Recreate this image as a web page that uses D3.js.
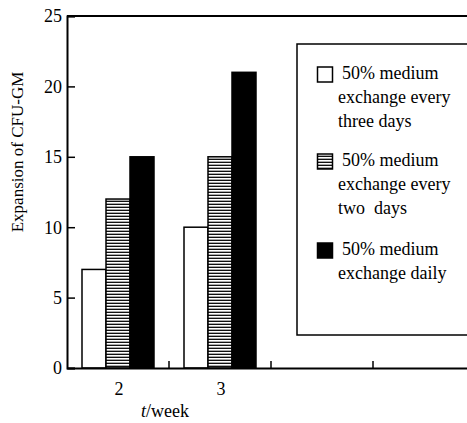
<!DOCTYPE html>
<html>
<head>
<meta charset="utf-8">
<script src="https://cdn.jsdelivr.net/npm/d3@7"></script>
<style>
  html, body { margin: 0; padding: 0; background: #fff; }
  svg { display: block; }
</style>
</head>
<body>
<svg id="chart" width="467" height="423"></svg>
<script>
// ---- data ----
const weeks = ["2", "3"];
const axisSlots = ["2", "3", "4", "5"];
const seriesNames = ["every3", "every2", "daily"];
const every3Days = [7, 10];
const every2Days = [12, 15];
const dailyExchange = [15, 21];
const yTicks = [0, 5, 10, 15, 20, 25];
const legendLines = [
  ["50% medium", "exchange every", "three days"],
  ["50% medium", "exchange every", "two  days"],
  ["50% medium", "exchange daily"]
];

(function () {
const FONT = "'Liberation Serif', 'Times New Roman', Times, 'DejaVu Serif', serif";
const svg = d3.select("#chart").attr("font-family", FONT);
const defs = svg.append("defs");
const pat = defs.append("pattern").attr("id", "hatch")
  .attr("patternUnits", "userSpaceOnUse").attr("width", 8).attr("height", 3);
pat.append("rect").attr("width", 8).attr("height", 3).attr("fill", "#fff");
pat.append("rect").attr("y", 0).attr("width", 8).attr("height", 1).attr("fill", "#111");
pat.append("rect").attr("y", 2).attr("width", 8).attr("height", 1).attr("fill", "#aaa");

const fills = { every3: "#fff", every2: "url(#hatch)", daily: "#000" };

const mLeft = 67, mTop = 16, mBottom = 368, mRight = 475;
const x = d3.scaleBand().domain(axisSlots).range([mLeft, mRight]).padding(0);
const x1 = d3.scaleBand().domain(seriesNames).range([0, x.bandwidth()]).paddingInner(0).paddingOuter(0.625);
const y = d3.scaleLinear().domain([0, 25]).range([mBottom, mTop]);

const rows = weeks.map((w, i) => ({ week: w, values: { every3: every3Days[i], every2: every2Days[i], daily: dailyExchange[i] } }));

// bars
const g = svg.append("g");
rows.forEach(r => {
  seriesNames.forEach(s => {
    g.append("rect")
      .attr("x", x(r.week) + x1(s))
      .attr("y", y(r.values[s]))
      .attr("width", x1.bandwidth())
      .attr("height", y(0) - y(r.values[s]))
      .attr("fill", fills[s])
      .attr("stroke", "#000")
      .attr("stroke-width", 1.5);
  });
});

// frame lines
svg.append("line").attr("x1", mLeft).attr("x2", mRight).attr("y1", mTop).attr("y2", mTop)
  .attr("stroke", "#000").attr("stroke-width", 2);

// y axis
const yAxis = d3.axisRight(y).tickValues(yTicks).tickSize(8).tickFormat("");
const ya = svg.append("g").attr("transform", `translate(${mLeft},0)`).call(yAxis);
ya.select(".domain").attr("stroke-width", 2);
ya.selectAll(".tick line").attr("stroke-width", 1.5);

function txt(sel) {
  return sel.attr("font-family", FONT).attr("fill", "#000");
}

txt(svg.append("g").selectAll("text").data(yTicks).join("text"))
  .attr("x", mLeft - 5).attr("y", d => y(d)).attr("dy", "0.35em")
  .attr("text-anchor", "end").attr("font-size", 18)
  .text(d => d);

// x axis (ticks at category boundaries)
const xa = svg.append("g").attr("transform", `translate(0,${mBottom})`)
  .call(d3.axisTop(x).tickSize(0).tickFormat(""));
xa.select(".domain").attr("stroke-width", 2);
xa.selectAll(".tick").remove();
svg.append("g").selectAll("line").data(axisSlots.slice(0, 3)).join("line")
  .attr("x1", d => x(d) + x.bandwidth()).attr("x2", d => x(d) + x.bandwidth())
  .attr("y1", mBottom).attr("y2", mBottom - 7)
  .attr("stroke", "#000").attr("stroke-width", 1.5);
txt(svg.append("g").selectAll("text").data(weeks).join("text"))
  .attr("x", d => x(d) + x.bandwidth() / 2 + 1).attr("y", 395)
  .attr("text-anchor", "middle").attr("font-size", 18)
  .text(d => d);

// axis titles
const xt = txt(svg.append("text")).attr("x", 165).attr("y", 417).attr("text-anchor", "middle").attr("font-size", 18);
xt.append("tspan").attr("font-style", "italic").text("t");
xt.append("tspan").text("/week");
txt(svg.append("text")).attr("transform", "translate(23,152) rotate(-90)")
  .attr("text-anchor", "middle").attr("font-size", 17).text("Expansion of CFU-GM");

// legend
svg.append("rect").attr("x", 297).attr("y", 44).attr("width", 190).attr("height", 291)
  .attr("fill", "none").attr("stroke", "#000").attr("stroke-width", 1.5);
const legendTops = [67, 154, 243];
const legendBase = [79, 166, 255];
seriesNames.forEach((s, i) => {
  svg.append("rect").attr("x", 317.5).attr("y", legendTops[i]).attr("width", 15).attr("height", 15)
    .attr("fill", fills[s]).attr("stroke", "#000").attr("stroke-width", 1.5);
  legendLines[i].forEach((t, j) => {
    txt(svg.append("text")).attr("x", j === 0 ? 342 : 338).attr("y", legendBase[i] + j * 24)
      .attr("font-size", 18).attr("xml:space", "preserve").style("white-space", "pre").text(t);
  });
});
})();
</script>
</body>
</html>
